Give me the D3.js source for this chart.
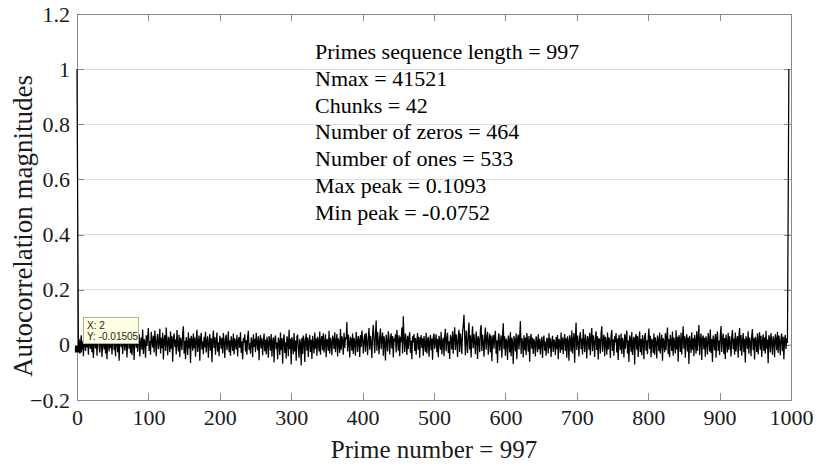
<!DOCTYPE html>
<html><head><meta charset="utf-8">
<script src="https://cdn.jsdelivr.net/npm/d3@7"></script>
<style>body{margin:0;background:#fff}svg{display:block}</style>
</head><body>
<svg id="c" width="818" height="466"></svg>
<script>
// x tick labels and y tick labels
const xTicks = [0,100,200,300,400,500,600,700,800,900,1000];
const yTicks = [-0.2,0,0.2,0.4,0.6,0.8,1,1.2];
const xLabel = "Prime number = 997";
const yLabel = "Autocorrelation magnitudes";
const infoLines = ["Primes sequence length = 997","Nmax = 41521","Chunks = 42","Number of zeros = 464","Number of ones = 533","Max peak = 0.1093","Min peak = -0.0752"];
const tipX = 2, tipY = -0.01505;
// autocorrelation values by lag
const startValues = [1, 0.48, -0.01505];
const noiseValues = [
.021,-.032,.008,.035,-.018,.012,-.041,.027,.004,-.022,.046,-.009,.017,-.036,.029,.002,-.015,.038,-.027,.011,
-.048,.024,.006,-.013,.031,-.039,.019,.043,-.006,-.028,.015,.033,-.044,.009,.022,-.017,.037,-.031,.013,-.052,
.028,.005,-.024,.041,-.012,.018,-.035,.026,.049,-.019,.007,-.041,.032,.014,-.027,.021,-.058,.016,.039,-.008,
.024,-.033,.011,.045,-.021,.003,.029,-.046,.018,.036,-.014,.052,-.029,.008,-.037,.025,.012,-.055,.031,.019,
-.011,.043,-.025,.017,.038,-.042,.006,.027,-.018,.056,-.033,.021,.009,-.047,.035,-.004,.028,.061,-.022,.014,
-.036,.047,.018,-.009,.033,-.028,.052,.011,-.041,.024,.039,-.016,.007,.058,-.031,.026,-.012,.044,-.053,.019,
.035,-.022,.063,.008,-.038,.029,.016,-.027,.048,-.014,.031,-.061,.022,.041,-.008,.019,-.035,.054,.003,-.024,
.037,-.045,.026,.012,-.019,.042,.067,-.031,.015,-.052,.028,.009,-.037,.046,-.013,.024,-.066,.033,.018,-.021,
.041,-.012,.027,-.043,.016,.055,-.026,.008,.034,-.058,.021,.044,-.017,.012,-.034,.029,-.009,.047,-.028,.015,
.031,-.047,.006,.039,-.021,.024,-.063,.017,.052,-.011,.028,-.036,.014,.045,-.024,.009,-.041,.033,.019,-.014,
.026,-.031,.043,.011,-.048,.022,.037,-.019,.005,.049,-.027,.016,-.039,.031,.012,-.022,.041,-.035,.024,.008,
-.017,.036,-.042,.019,.028,-.011,.046,-.029,.013,-.052,.025,.007,.038,-.024,.017,-.036,.029,.051,-.018,.006,
-.032,.027,.014,-.045,.038,-.008,.022,-.027,.044,.009,-.019,.031,-.056,.016,.035,-.013,.024,-.038,.012,.041,
-.023,.018,-.034,.029,.006,-.047,.032,.015,-.021,.039,-.043,.011,.027,-.064,.021,.034,-.016,.008,-.052,.026,
.013,-.037,.045,-.019,.024,-.068,.017,.038,-.029,.009,-.049,.031,.019,-.041,.055,-.015,.022,-.071,.028,.011,
-.034,.043,-.024,.016,-.058,.029,.037,-.012,-.047,.021,.008,-.075,.026,-.033,.034,.014,-.062,.019,.041,-.021,
.027,-.044,.012,.036,-.026,.018,-.051,.033,.005,-.031,.045,-.014,.023,-.039,.029,.011,-.024,.048,-.036,.017,
.032,-.019,.042,-.028,.009,.038,-.045,.021,.015,-.022,.051,-.031,.026,.007,-.038,.034,.019,-.015,.046,-.027,
.013,.039,-.042,.024,.008,-.029,.057,-.018,.031,.016,-.036,.044,-.011,.027,.021,.083,-.024,.037,.012,-.046,
.029,.018,-.021,.041,-.033,.025,.008,-.039,.047,.014,-.026,.032,.019,-.044,.036,-.008,.052,.023,-.031,.015,
.038,-.025,.044,.011,-.037,.027,.061,-.018,.033,.009,-.048,.041,.072,.016,-.029,.036,.088,-.021,.047,.012,
-.034,.028,.059,-.016,.021,.045,-.039,.031,.008,-.057,.037,.014,-.024,.049,.026,-.035,.019,.042,-.013,.032,
-.046,.024,.011,.038,-.028,.054,.017,-.021,.035,-.041,.029,.009,.063,-.031,.104,.018,-.026,.041,.012,-.037,
.033,-.015,.027,.046,-.029,.016,-.052,.031,.008,.039,-.022,.025,-.036,.014,.043,-.018,.028,-.047,.019,.035,
-.011,.024,-.039,.032,.006,-.025,.044,-.031,.017,.029,-.043,.012,.036,-.019,.023,-.054,.027,.041,-.014,.009,
.038,-.027,.021,-.045,.033,.015,-.018,.047,-.034,.011,.026,-.041,.032,.058,-.023,.019,.044,-.029,.013,-.051,
.035,.022,-.017,.049,-.032,.027,.064,-.019,.038,.012,-.044,.031,.055,-.026,.041,.018,-.033,.047,.073,.1093,
.026,-.038,.052,.014,-.029,.043,.081,-.017,.035,-.046,.021,.067,-.012,.039,.009,-.034,.048,.024,-.051,.031,
.016,-.027,.054,.072,-.022,.037,.011,-.043,.029,.063,-.018,.025,.047,-.036,.013,.041,-.028,.034,-.059,.019,
.036,-.014,.028,.051,-.032,.017,-.066,.024,.042,-.021,.009,.035,-.047,.029,.078,-.016,.031,-.039,.022,.013,
-.055,.034,.019,-.028,.046,-.041,.026,.008,-.069,.032,.015,-.024,.041,-.052,.021,.037,-.017,.029,.086,-.033,
.024,.011,-.046,.035,-.019,.027,-.038,.043,.016,-.025,.032,-.061,.018,.039,-.014,.026,-.033,.021,.007,-.042,
.031,.015,-.027,.038,-.016,.022,-.035,.009,.029,-.048,.017,.034,-.021,.012,-.039,.026,.018,-.031,.042,-.013,
.024,-.044,.011,.033,-.026,.019,.008,-.037,.028,-.015,.036,-.052,.021,.013,-.029,.045,-.018,.027,-.034,.016,
.039,-.022,.024,-.047,.031,.012,-.058,.035,.019,-.024,.052,-.031,.017,.043,-.065,.028,.081,-.019,.034,.011,
-.042,.029,.046,-.016,.023,-.035,.057,.014,-.027,.038,.009,-.049,.032,.021,-.018,.044,-.038,.026,.061,-.023,
.035,.012,-.044,.028,.049,-.019,.031,-.053,.024,.016,-.031,.042,.067,-.025,.018,.037,-.041,.029,.011,-.036,
.045,-.017,.027,.014,-.048,.033,.054,-.022,.019,-.039,.031,.008,.043,-.028,.023,-.055,.036,.015,-.019,.041,
-.033,.025,.009,-.046,.038,-.014,.027,.052,-.031,.016,-.062,.034,.021,-.025,.047,-.037,.013,.029,-.071,.024,
.039,-.018,.032,-.044,.011,.048,-.027,.021,-.038,.035,.016,-.052,.028,.043,-.021,.017,-.034,.026,.059,-.015,
.033,-.045,.022,.012,-.029,.041,-.036,.027,.008,-.049,.034,.018,-.023,.045,-.031,.015,.037,-.058,.024,.011,
-.027,.042,-.019,.031,.063,-.034,.021,-.045,.036,.014,-.022,.048,-.039,.026,.009,-.031,.053,-.017,.029,-.061,
.035,.018,-.026,.044,-.035,.022,.067,-.014,.031,-.047,.019,.038,-.024,.027,-.069,.033,.012,-.029,.046,-.018,
.024,-.041,.036,.015,-.032,.049,-.021,.028,.072,-.038,.017,.041,-.055,.023,.034,-.016,.026,-.043,.031,.009,
-.035,.043,.018,-.024,.056,-.029,.021,-.062,.034,.013,-.019,.039,-.047,.027,.048,-.022,.016,-.037,.032,.068,
-.026,.019,.041,-.033,.025,-.051,.037,.012,-.028,.044,-.018,.031,.008,-.042,.029,.054,-.016,.023,-.036,.045,
-.024,.017,.032,-.047,.028,.061,-.021,.036,-.039,.014,.043,-.027,.022,-.064,.031,.018,-.015,.049,-.032,.026,
.011,-.041,.034,.057,-.019,.024,-.053,.029,.015,-.026,.042,-.035,.021,.046,-.018,.033,-.044,.013,.038,-.022,
.027,-.031,.051,-.014,.019,-.067,.035,.024,-.028,.043,.009,-.036,.031,.016,-.045,.038,.022,-.019,.047,-.029,
.034,.012,-.038,.026,.041,-.023,.029,-.052,.018,.036,-.015,.024,.007
];
const endValues = [0.48, 1];
const values = startValues.concat(noiseValues, endValues);

const svg = d3.select("#c");
const L = 77, R = 791, T = 14, B = 400;
const x = d3.scaleLinear().domain([0,1000]).range([L,R]);
const y = d3.scaleLinear().domain([-0.2,1.2]).range([B,T]);
const axisCol = "#8a8a8a", textCol = "#1a1a1a";
const serif = "'Liberation Serif','Times New Roman',serif";

// grid
svg.append("g").selectAll("line").data(yTicks.slice(1,-1)).join("line")
  .attr("x1",L).attr("x2",R).attr("y1",d=>y(d)).attr("y2",d=>y(d))
  .attr("stroke","#dedede").attr("stroke-width",1).attr("shape-rendering","crispEdges");

// axes
const fmtY = d => (d===0?"0":d===1?"1":d3.format("")(+d.toFixed(1)));
const gx = svg.append("g").attr("transform",`translate(0,${B})`)
  .call(d3.axisBottom(x).tickValues(xTicks).tickSizeInner(-7).tickSizeOuter(0).tickPadding(9).tickFormat(d3.format("d")));
const gxt = svg.append("g").attr("transform",`translate(0,${T})`)
  .call(d3.axisTop(x).tickValues(xTicks).tickSizeInner(-7).tickSizeOuter(0).tickFormat(""));
const gy = svg.append("g").attr("transform",`translate(${L},0)`)
  .call(d3.axisLeft(y).tickValues(yTicks).tickSizeInner(-7).tickSizeOuter(0).tickPadding(7).tickFormat(fmtY));
const gyr = svg.append("g").attr("transform",`translate(${R},0)`)
  .call(d3.axisRight(y).tickValues(yTicks).tickSizeInner(-7).tickSizeOuter(0).tickFormat(""));
[gx,gxt,gy,gyr].forEach(g=>{
  g.attr("font-family",serif).attr("font-size",22);
  g.selectAll("path").attr("stroke",axisCol).attr("shape-rendering","crispEdges");
  g.selectAll("line").attr("stroke",axisCol).attr("shape-rendering","crispEdges");
  g.selectAll("text").attr("fill",textCol).style("font-family",serif).style("font-size","22px");
});

// data line
const line = d3.line().x((d,i)=>x(i)).y(d=>y(d));
svg.append("path").datum(values).attr("d",line)
  .attr("fill","none").attr("stroke","#000").attr("stroke-width",1.25).attr("stroke-linejoin","miter");

// labels
svg.append("text").attr("x",(L+R)/2).attr("y",458).attr("text-anchor","middle")
  .style("font-family",serif).style("font-size","25px").attr("fill",textCol).text(xLabel);
svg.append("text").attr("transform",`translate(32,226) rotate(-90)`).attr("text-anchor","middle")
  .style("font-family",serif).style("font-size","27px").attr("fill",textCol).text(yLabel);

// info text
svg.append("g").selectAll("text").data(infoLines).join("text")
  .attr("x",315).attr("y",(d,i)=>59+i*26.8)
  .style("font-family",serif).style("font-size","22px").attr("fill","#000").text(d=>d);

// datatip
const tx = x(tipX), ty = y(tipY);
svg.append("rect").attr("x",tx-3.5).attr("y",ty-3.5).attr("width",7).attr("height",7).attr("fill","#000");
svg.append("rect").attr("x",83.5).attr("y",317.5).attr("width",55).attr("height",26)
  .attr("fill","#ffffe1").attr("stroke","#b0b0a0").attr("stroke-width",1);
svg.append("text").attr("x",87).attr("y",328.5).style("font-family","'Liberation Sans',Arial,sans-serif")
  .style("font-size","10px").attr("fill","#222").text("X: " + tipX);
svg.append("text").attr("x",87).attr("y",339.5).style("font-family","'Liberation Sans',Arial,sans-serif")
  .style("font-size","10px").attr("fill","#222").text("Y: " + tipY);
</script>
</body></html>
